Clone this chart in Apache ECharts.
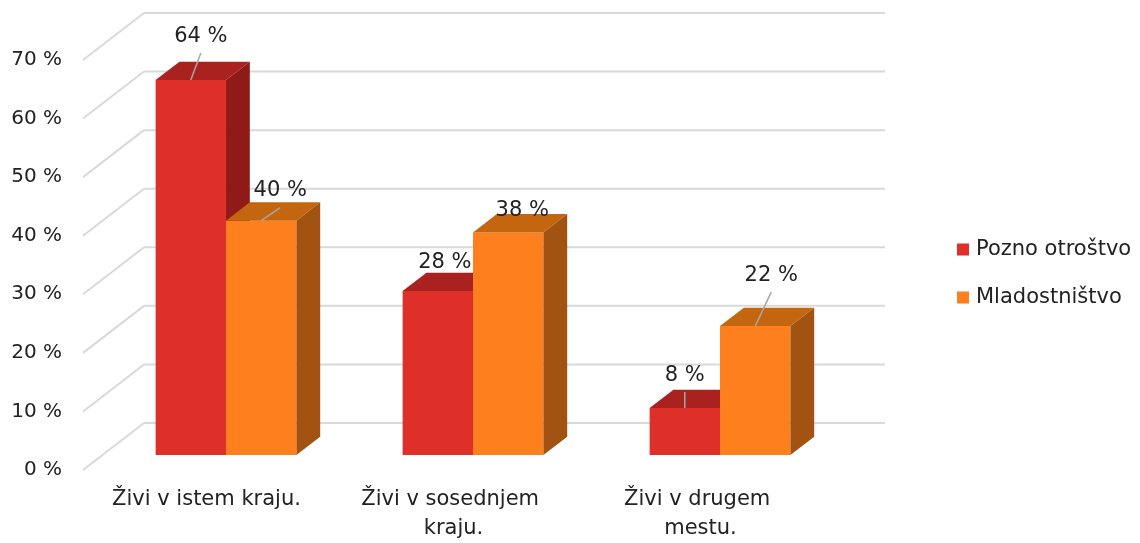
<!DOCTYPE html>
<html>
<head>
<meta charset="utf-8">
<script src="https://cdn.jsdelivr.net/npm/echarts@6/dist/echarts.min.js"></script>
<style>
  html, body { margin: 0; padding: 0; background: #fff; }
  #chart { width: 1140px; height: 543px; }
</style>
</head>
<body>
<div id="chart"></div>
<script>
  // data
  const categories = ['Živi v istem kraju.', 'Živi v sosednjem kraju.', 'Živi v drugem mestu.'];
  const seriesNames = ['Pozno otroštvo', 'Mladostništvo'];
  const poznoOtrostvo = [64, 28, 8];
  const mladostnistvo = [40, 38, 22];
  const yTicks = [0, 10, 20, 30, 40, 50, 60, 70];

  // 3d look
  const DX = 61, DY = 47;        // full depth of the floor
  const D0 = 0.32, D1 = 0.71;    // bar front / back inside the depth
  const font = 'DejaVu Sans';
  const textColor = '#222';
  // hand-placed label shifts, like in the original
  const labelNudge = [
    [[10, -44], [7, -28], [0, -33]],
    [[19, -30], [14, -22], [16, -51]]
  ];
  const faces = [
    { front: '#DF2F29', top: '#A92220', side: '#8F1B18' },
    { front: '#FD7F1D', top: '#C4650F', side: '#A25312' }
  ];

  function wallRender(params, api) {
    const cs = params.coordSys;
    const y = api.coord([0, api.value(1)])[1];
    const style = { stroke: '#D9D9D9', lineWidth: 2, fill: null };
    return {
      type: 'group',
      children: [
        { type: 'line', shape: { x1: cs.x, y1: y, x2: cs.x + DX, y2: y - DY }, style: style },
        { type: 'line', shape: { x1: cs.x + DX, y1: y - DY, x2: cs.x + cs.width + DX, y2: y - DY }, style: style }
      ]
    };
  }

  function barRender(s) {
    return function (params, api) {
      const cat = api.value(0);
      const val = api.value(1);
      const base = api.coord([cat, 0]);
      const top = api.coord([cat, val]);
      const band = api.size([1, 0])[0];
      const w = band * 0.285;
      const cx = base[0] + D0 * DX;
      const x0 = s === 0 ? cx - w : cx;
      const x1 = x0 + w;
      const yb = base[1] - D0 * DY;
      const yt = top[1] - D0 * DY;
      const ox = (D1 - D0) * DX, oy = (D1 - D0) * DY;
      const c = faces[s];
      const fx = x0 + w / 2;
      const n = labelNudge[s][params.dataIndex];
      const lx = fx + n[0], ly = yt + n[1];
      const kids = [
        { type: 'polygon', shape: { points: [[x0, yt], [x1, yt], [x1, yb], [x0, yb]] }, style: { fill: c.front } },
        { type: 'polygon', shape: { points: [[x0, yt], [x0 + ox, yt - oy], [x1 + ox, yt - oy], [x1, yt]] }, style: { fill: c.top } },
        { type: 'polygon', shape: { points: [[x1, yt], [x1 + ox, yt - oy], [x1 + ox, yb - oy], [x1, yb]] }, style: { fill: c.side } },
        { type: 'text', x: lx, y: ly, style: { text: val + ' %', fill: textColor, font: '21px "' + font + '"', align: 'center', verticalAlign: 'middle' } }
      ];
      if (yt - (ly + 17) > 12) {
        kids.push({ type: 'line', shape: { x1: lx, y1: ly + 17, x2: fx, y2: yt }, style: { stroke: '#A6A6A6', lineWidth: 1.5 } });
      }
      return { type: 'group', children: kids };
    };
  }

  const chart = echarts.init(document.getElementById('chart'));
  chart.setOption({
    animation: false,
    textStyle: { fontFamily: font },
    grid: { left: 83, width: 741, top: 60, bottom: 70 },
    legend: {
      data: seriesNames,
      orient: 'vertical',
      left: 952,
      top: 234,
      itemWidth: 12,
      itemHeight: 12,
      itemGap: 27,
      icon: 'rect',
      textStyle: { fontSize: 21, color: textColor, padding: [0, 0, 0, 2] }
    },
    xAxis: {
      type: 'category',
      data: categories,
      axisLine: { show: false },
      axisTick: { show: false },
      axisLabel: {
        interval: 0,
        margin: 15,
        fontSize: 21,
        lineHeight: 29,
        color: textColor,
        width: 210,
        overflow: 'break'
      }
    },
    yAxis: {
      type: 'value',
      min: 0,
      max: 70,
      interval: 10,
      splitLine: { show: false },
      axisLine: { show: false },
      axisTick: { show: false },
      axisLabel: { formatter: '{value} %', margin: 21, fontSize: 20, color: textColor }
    },
    series: [
      {
        type: 'custom',
        z: 1,
        silent: true,
        renderItem: wallRender,
        data: yTicks.map(v => [0, v])
      },
      {
        name: seriesNames[0],
        type: 'custom',
        z: 2,
        itemStyle: { color: faces[0].front },
        renderItem: barRender(0),
        data: poznoOtrostvo.map((v, i) => [i, v])
      },
      {
        name: seriesNames[1],
        type: 'custom',
        z: 3,
        itemStyle: { color: faces[1].front },
        renderItem: barRender(1),
        data: mladostnistvo.map((v, i) => [i, v])
      }
    ]
  });
</script>
</body>
</html>
